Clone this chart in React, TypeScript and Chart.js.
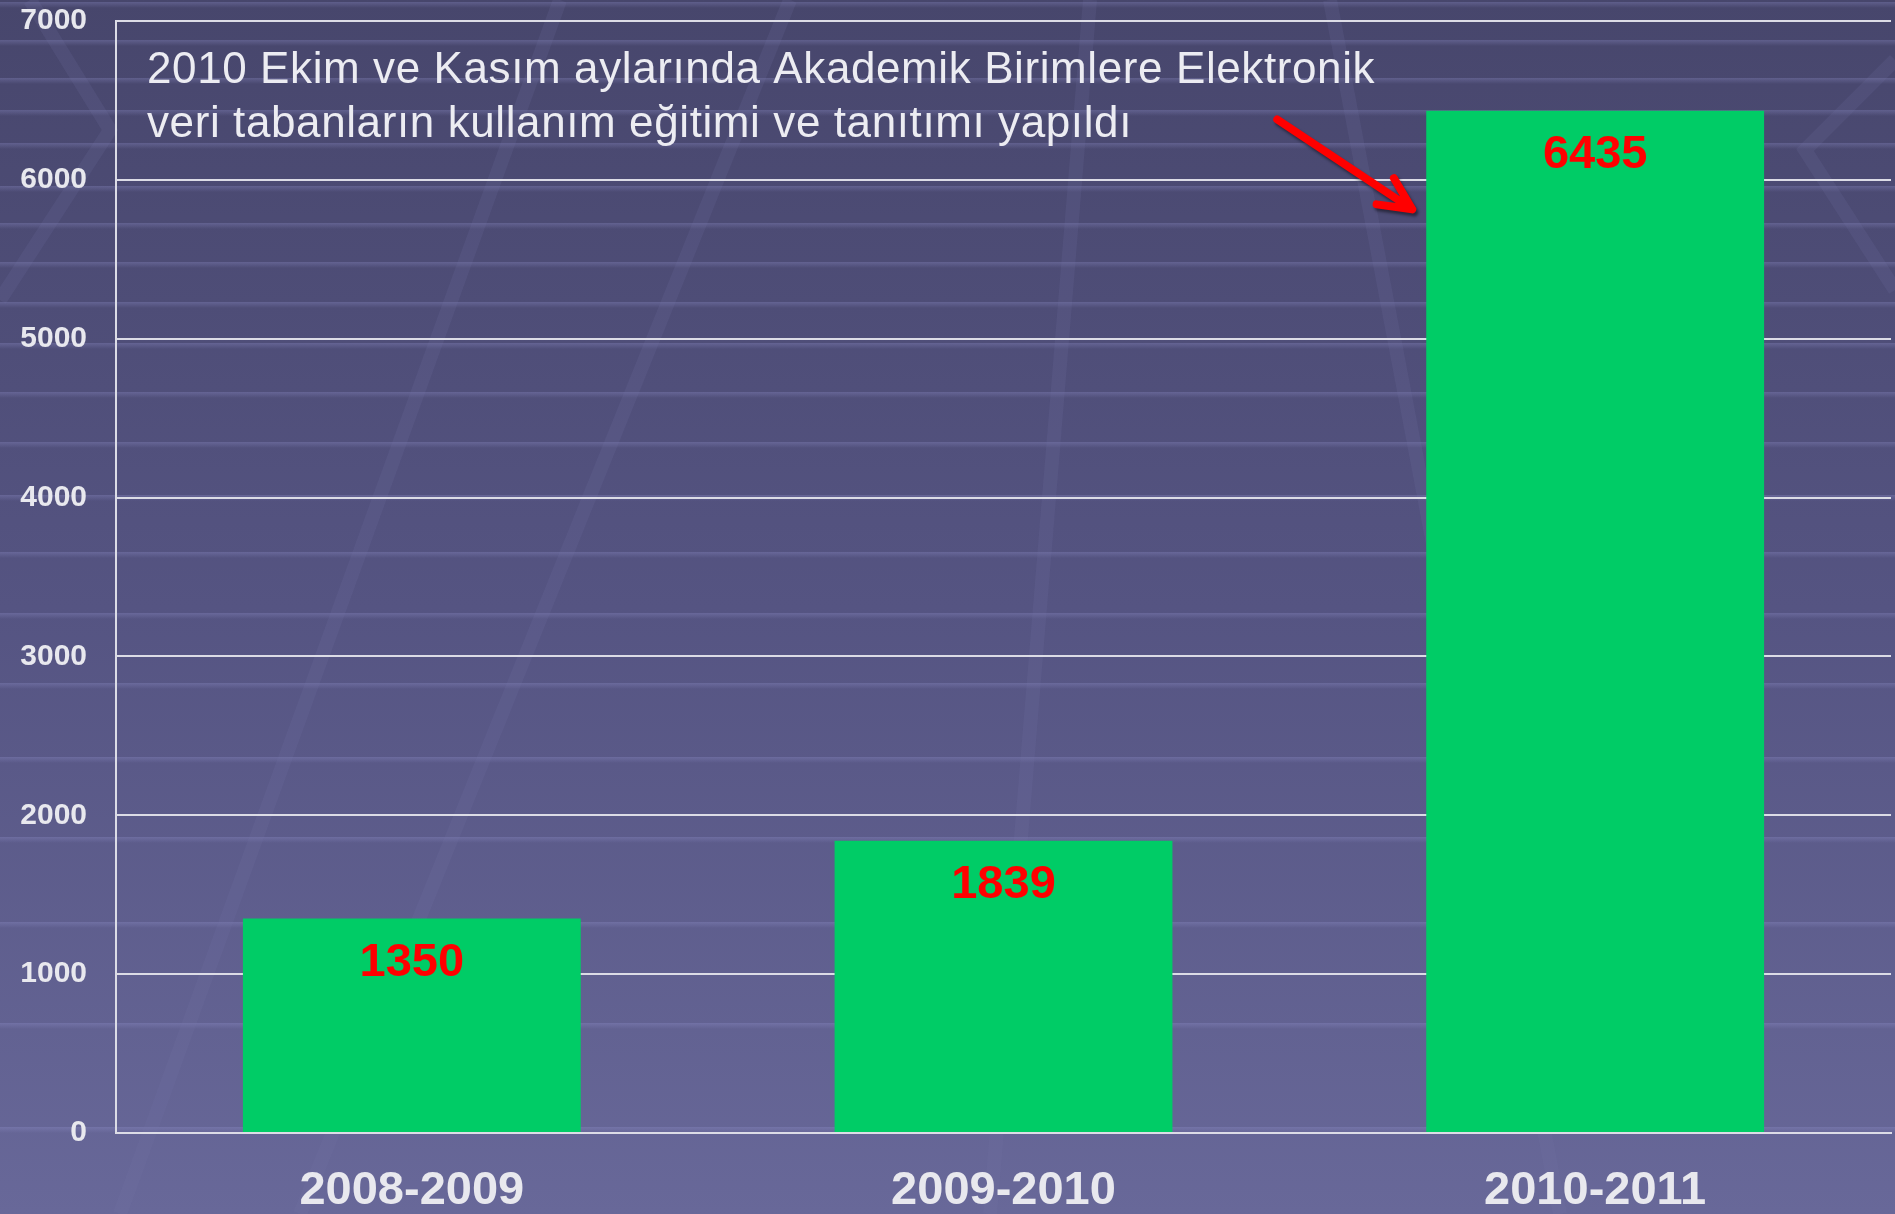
import React, { useEffect, useRef } from "react";
import { Chart, registerables } from "chart.js";

Chart.register(...registerables);

const categories = ["2008-2009", "2009-2010", "2010-2011"];
const values = [1350, 1839, 6435];
const yMin = 0;
const yMax = 7000;
const yStep = 1000;
const noteLines = [
  "2010 Ekim ve Kasım aylarında Akademik Birimlere Elektronik",
  "veri tabanların kullanım eğitimi ve tanıtımı yapıldı",
];
// arrow anchor values (data units) for the annotation arrow
const arrowTailValue = 6380;
const arrowTipValue = 5815;
// decorative background stripe rows (pixels from top)
const stripeRows = [2, 40, 78, 110, 143, 186, 223, 262, 302, 343, 392, 442, 495, 552, 613, 683, 757, 837, 922, 1023, 1127];

const FONT = '"Liberation Sans", Arial, Helvetica, sans-serif';

const backgroundPlugin = {
  id: "bgDeco",
  beforeDraw(chart: any) {
    const { ctx, width, height } = chart;
    ctx.save();
    const g = ctx.createLinearGradient(0, 0, 0, height);
    g.addColorStop(0, "#47466c");
    g.addColorStop(0.5, "#555482");
    g.addColorStop(1, "#686899");
    ctx.fillStyle = g;
    ctx.fillRect(0, 0, width, height);
    // horizontal light stripes
    stripeRows.forEach((y) => {
      const sg = ctx.createLinearGradient(0, y, 0, y + 6);
      sg.addColorStop(0, "rgba(150,150,210,0.30)");
      sg.addColorStop(1, "rgba(150,150,210,0)");
      ctx.fillStyle = sg;
      ctx.fillRect(0, y, width, 6);
    });
    // faint slanted perspective bands / chevrons
    ctx.strokeStyle = "rgba(120,120,170,0.16)";
    ctx.lineWidth = 14;
    const paths = [
      [[30, 0], [110, 130], [0, 300]],
      [[1895, 60], [1805, 150], [1895, 290]],
      [[560, 0], [120, 1214]],
      [[790, 0], [300, 1214]],
      [[1090, 0], [990, 1214]],
      [[1330, 0], [1560, 1214]],
    ];
    paths.forEach((pts) => {
      ctx.beginPath();
      pts.forEach(([x, y], i) => (i ? ctx.lineTo(x, y) : ctx.moveTo(x, y)));
      ctx.stroke();
    });
    ctx.restore();
  },
};

const labelPlugin = {
  id: "valueLabels",
  afterDatasetsDraw(chart: any) {
    const { ctx } = chart;
    const meta = chart.getDatasetMeta(0);
    ctx.save();
    ctx.font = `bold 47px ${FONT}`;
    ctx.fillStyle = "#ff0000";
    ctx.textAlign = "center";
    ctx.textBaseline = "alphabetic";
    meta.data.forEach((bar: any, i: number) => {
      ctx.fillText(String(values[i]), bar.x, bar.y + 57);
    });
    ctx.restore();
  },
};

const notePlugin = {
  id: "note",
  afterDraw(chart: any) {
    const { ctx, chartArea, scales } = chart;
    ctx.save();
    ctx.font = `44px ${FONT}`;
    (ctx as any).letterSpacing = "0.6px";
    ctx.fillStyle = "#ececf2";
    ctx.textAlign = "left";
    ctx.textBaseline = "alphabetic";
    noteLines.forEach((line, i) => {
      ctx.fillText(line, chartArea.left + 31, chartArea.top + 62 + i * 54);
    });
    (ctx as any).letterSpacing = "0px";

    const meta = chart.getDatasetMeta(0);
    const b: any = meta.data[2];
    if (b) {
      const left = b.x - b.width / 2;
      const tipX = left - 14;
      const tipY = scales.y.getPixelForValue(arrowTipValue);
      const tailX = left - 149;
      const tailY = scales.y.getPixelForValue(arrowTailValue);
      const ang = Math.atan2(tipY - tailY, tipX - tailX);
      const headLen = 36;
      ctx.shadowColor = "rgba(0,0,0,0.45)";
      ctx.shadowOffsetX = 2;
      ctx.shadowOffsetY = 3;
      ctx.shadowBlur = 3;
      ctx.strokeStyle = "#ff0000";
      ctx.lineWidth = 8;
      ctx.lineCap = "round";
      ctx.lineJoin = "round";
      ctx.beginPath();
      ctx.moveTo(tailX, tailY);
      ctx.lineTo(tipX, tipY);
      ctx.moveTo(tipX - headLen * Math.cos(ang - 0.45), tipY - headLen * Math.sin(ang - 0.45));
      ctx.lineTo(tipX, tipY);
      ctx.lineTo(tipX - headLen * Math.cos(ang + 0.45), tipY - headLen * Math.sin(ang + 0.45));
      ctx.stroke();
    }
    ctx.restore();
  },
};

export default function App() {
  const ref = useRef<HTMLCanvasElement | null>(null);

  useEffect(() => {
    document.body.style.margin = "0";
    if (!ref.current) return;
    const chart = new Chart(ref.current, {
      type: "bar",
      data: {
        labels: categories,
        datasets: [
          {
            data: values,
            backgroundColor: "#00cc66",
            borderWidth: 0,
            categoryPercentage: 1,
            barPercentage: 0.571,
          },
        ],
      },
      options: {
        responsive: false,
        animation: false,
        layout: { padding: { top: 21, right: 4, left: 0, bottom: 0 } },
        plugins: {
          legend: { display: false },
          tooltip: { enabled: false },
          title: { display: false },
        },
        scales: {
          x: {
            grid: { display: false, drawTicks: false },
            border: { display: true, color: "#dcdce6", width: 2 },
            ticks: {
              color: "#e8e8ee",
              font: { family: FONT, size: 47, weight: "bold" },
              padding: 30,
            },
            afterFit(scale: any) {
              scale.height = 81;
              scale.paddingLeft = 0;
              scale.paddingRight = 0;
            },
          },
          y: {
            min: yMin,
            max: yMax,
            ticks: {
              stepSize: yStep,
              color: "#e8e8ee",
              font: { family: FONT, size: 30, weight: "bold" },
              padding: 29,
              callback: (v: any) => String(v),
            },
            grid: { color: "#dcdce6", lineWidth: 2, drawTicks: false },
            border: { display: true, color: "#dcdce6", width: 2 },
            afterFit(scale: any) {
              scale.width = 116;
              scale.paddingTop = 0;
              scale.paddingBottom = 0;
            },
          },
        },
      },
      plugins: [backgroundPlugin, labelPlugin, notePlugin],
    });
    return () => chart.destroy();
  }, []);

  return (
    <div style={{ position: "fixed", left: 0, top: 0, width: 1895, height: 1214 }}>
      <canvas ref={ref} width={1895} height={1214} style={{ display: "block" }} />
    </div>
  );
}
